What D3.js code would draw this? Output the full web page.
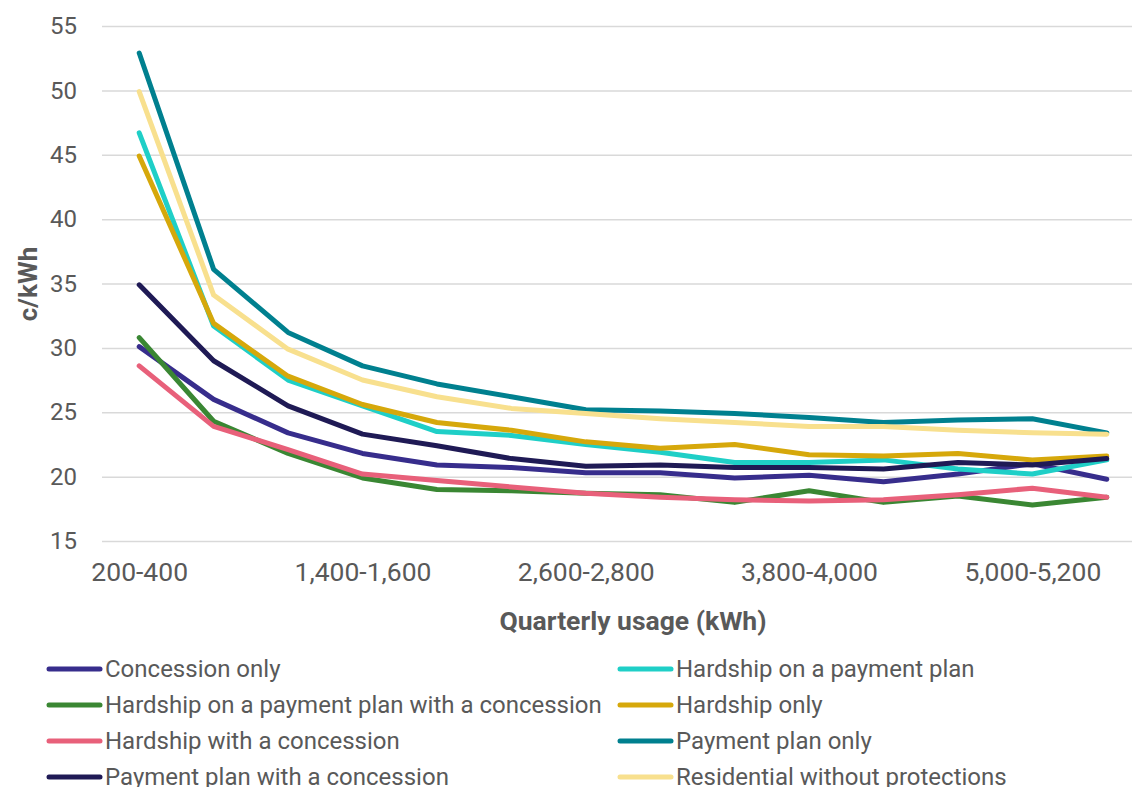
<!DOCTYPE html>
<html>
<head>
<meta charset="utf-8">
<script src="https://cdn.jsdelivr.net/npm/d3@7"></script>
<style>
  html, body { margin: 0; padding: 0; background: #fff; }
  svg { display: block; font-family: Roboto, "Noto Sans", sans-serif; }
</style>
</head>
<body>
<svg id="chart" width="1132" height="787"></svg>
<script>
// Quarterly usage bands (kWh)
const categories = [
  "200-400", "600-800", "1,000-1,200", "1,400-1,600", "1,800-2,000",
  "2,200-2,400", "2,600-2,800", "3,000-3,200", "3,400-3,600", "3,800-4,000",
  "4,200-4,400", "4,600-4,800", "5,000-5,200", "5,400-5,600"
];
const xTickLabels = ["200-400", "1,400-1,600", "2,600-2,800", "3,800-4,000", "5,000-5,200"];
const yTicks = [15, 20, 25, 30, 35, 40, 45, 50, 55];

// Effective price (c/kWh) per customer group
const seriesNames = [
  "Concession only",
  "Hardship on a payment plan",
  "Hardship on a payment plan with a concession",
  "Hardship only",
  "Hardship with a concession",
  "Payment plan only",
  "Payment plan with a concession",
  "Residential without protections"
];
const concessionOnly      = [30.1, 26.0, 23.4, 21.8, 20.9, 20.7, 20.3, 20.3, 19.9, 20.1, 19.6, 20.2, 21.0, 19.8];
const hardshipPaymentPlan = [46.7, 31.7, 27.5, 25.5, 23.5, 23.2, 22.5, 21.9, 21.1, 21.1, 21.3, 20.6, 20.2, 21.3];
const hardshipPlanConc    = [30.8, 24.3, 21.8, 19.9, 19.0, 18.9, 18.7, 18.6, 18.0, 18.9, 18.0, 18.5, 17.8, 18.4];
const hardshipOnly        = [44.9, 31.9, 27.8, 25.6, 24.2, 23.6, 22.7, 22.2, 22.5, 21.7, 21.6, 21.8, 21.3, 21.6];
const hardshipConc        = [28.6, 23.9, 22.1, 20.2, 19.7, 19.2, 18.7, 18.4, 18.2, 18.1, 18.2, 18.6, 19.1, 18.4];
const paymentPlanOnly     = [52.9, 36.1, 31.2, 28.6, 27.2, 26.2, 25.2, 25.1, 24.9, 24.6, 24.2, 24.4, 24.5, 23.4];
const paymentPlanConc     = [34.9, 29.0, 25.5, 23.3, 22.4, 21.4, 20.8, 20.9, 20.7, 20.7, 20.6, 21.1, 20.9, 21.4];
const residential         = [49.9, 34.1, 29.9, 27.5, 26.2, 25.3, 24.9, 24.5, 24.2, 23.9, 23.9, 23.6, 23.4, 23.3];

const seriesValues = [
  concessionOnly, hardshipPaymentPlan, hardshipPlanConc, hardshipOnly,
  hardshipConc, paymentPlanOnly, paymentPlanConc, residential
];
const seriesColors = [
  "#372d8c", "#1fcfc7", "#3a8733", "#d6a80b",
  "#e8607a", "#00808f", "#1f1a55", "#f8e08e"
];

const textColor = "#595959";
const svg = d3.select("#chart");

const x = d3.scalePoint().domain(categories).range([102, 1144]).padding(0.5);
const y = d3.scaleLinear().domain([15, 55]).range([541, 26]);

// Horizontal gridlines + y labels
const yAxis = d3.axisLeft(y).tickValues(yTicks).tickSize(-(1144 - 102)).tickPadding(25);
const gy = svg.append("g").attr("transform", "translate(102,0)").call(yAxis);
gy.select(".domain").remove();
gy.selectAll(".tick line").attr("stroke", "#d9d9d9").attr("stroke-width", 1.5);
gy.selectAll(".tick text")
  .attr("fill", textColor).attr("font-size", 24).attr("font-family", "Roboto");

// Category labels (every third band)
const xAxis = d3.axisBottom(x).tickValues(xTickLabels).tickSize(0).tickPadding(21);
const gx = svg.append("g").attr("transform", "translate(0,541)").call(xAxis);
gx.select(".domain").remove();
gx.selectAll(".tick text")
  .attr("fill", textColor).attr("font-size", 26.5).attr("font-family", "Roboto");

// Axis titles
svg.append("text")
  .attr("transform", "translate(37,284) rotate(-90)")
  .attr("text-anchor", "middle")
  .attr("fill", textColor).attr("font-size", 26).attr("font-weight", "bold")
  .text("c/kWh");
svg.append("text")
  .attr("x", 633).attr("y", 630)
  .attr("text-anchor", "middle")
  .attr("fill", textColor).attr("font-size", 26.5).attr("font-weight", "bold")
  .text("Quarterly usage (kWh)");

// Series lines
const line = d3.line()
  .x((d, i) => x(categories[i]))
  .y(d => y(d));

svg.append("g").selectAll("path")
  .data(seriesValues)
  .join("path")
  .attr("d", d => line(d))
  .attr("fill", "none")
  .attr("stroke", (d, i) => seriesColors[i])
  .attr("stroke-width", 5)
  .attr("stroke-linecap", "round")
  .attr("stroke-linejoin", "round");

// Legend: two columns, filled row by row
const legend = svg.append("g");
const colX = [47, 618];
const rowY = [669, 705, 741, 777];
seriesNames.forEach((name, i) => {
  const cx = colX[i % 2];
  const cy = rowY[Math.floor(i / 2)];
  const g = legend.append("g");
  g.append("line")
    .attr("x1", cx + 2).attr("x2", cx + 53)
    .attr("y1", cy).attr("y2", cy)
    .attr("stroke", seriesColors[i]).attr("stroke-width", 5)
    .attr("stroke-linecap", "round");
  g.append("text")
    .attr("x", cx + 58).attr("y", cy)
    .attr("dy", "0.35em")
    .attr("fill", textColor).attr("font-size", 24)
    .text(name);
});
</script>
</body>
</html>
